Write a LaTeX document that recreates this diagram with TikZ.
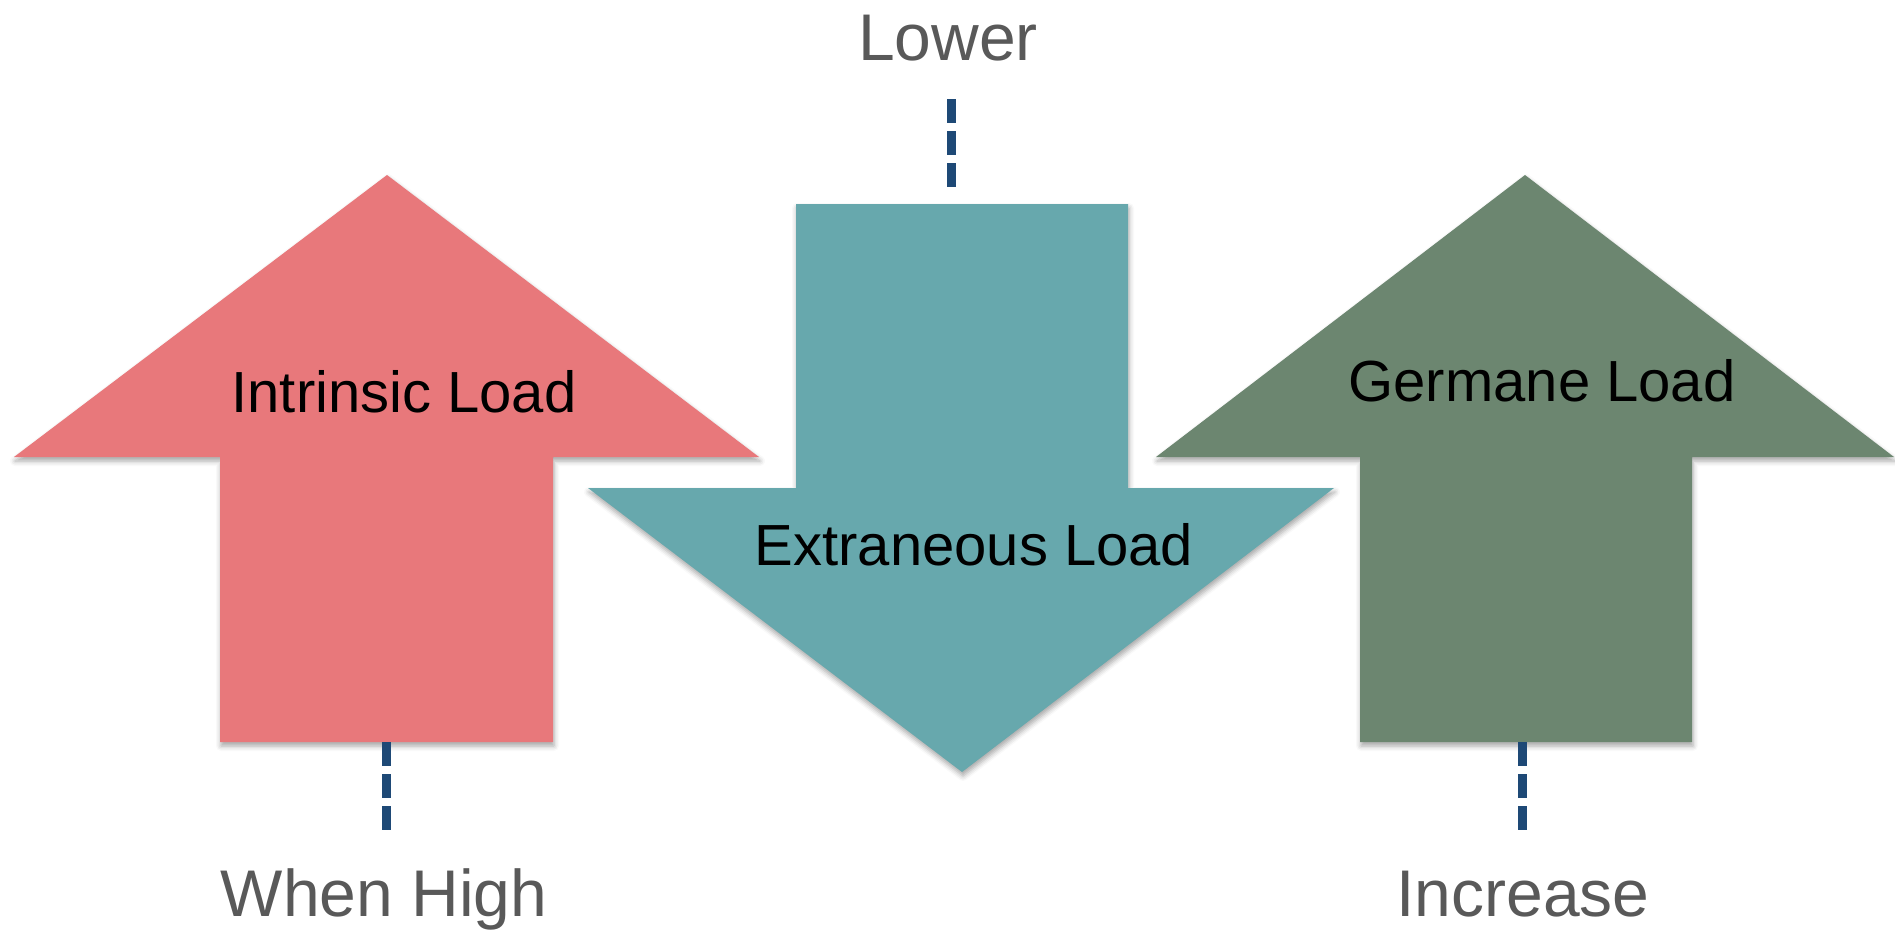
\documentclass[tikz,border=0pt]{standalone}
\usepackage{fontspec}
\setmainfont{Liberation Sans}
\usetikzlibrary{shadows.blur}
\definecolor{intrinsic}{RGB}{232,120,123}
\definecolor{extraneous}{RGB}{103,168,173}
\definecolor{germane}{RGB}{108,134,112}
\definecolor{leader}{RGB}{30,73,118}
\definecolor{caption}{RGB}{89,89,89}
\tikzset{
  loadarrow/.style={draw=none, blur shadow={shadow xshift=1pt, shadow yshift=-4pt, shadow blur radius=5pt, shadow opacity=35}},
  inner label/.style={font=\fontsize{58}{60}\selectfont, text=black, inner sep=0pt, anchor=base},
  outer label/.style={font=\fontsize{66}{70}\selectfont, text=caption, inner sep=0pt, anchor=base},
  leader line/.style={draw=leader, line width=9pt, dash pattern=on 24pt off 8pt}
}
\begin{document}
\begin{tikzpicture}[x=1pt, y=-1pt]
  \useasboundingbox (0,0) rectangle (1895,934);

  % upward arrow: intrinsic load
  \fill[intrinsic, loadarrow] (387,175) -- (759,457) -- (553,457) -- (553,742)
    -- (220,742) -- (220,457) -- (14,457) -- cycle;
  % downward arrow: extraneous load
  \fill[extraneous, loadarrow] (796,204) -- (1128,204) -- (1128,488) -- (1334,488)
    -- (962,772) -- (588,488) -- (796,488) -- cycle;
  % upward arrow: germane load
  \fill[germane, loadarrow] (1525,175) -- (1894,457) -- (1692,457) -- (1692,742)
    -- (1360,742) -- (1360,457) -- (1156,457) -- cycle;

  \node[inner label] (intr) at (404,412) {Intrinsic Load};
  \node[inner label] (extr) at (974,565) {Extraneous Load};
  \node[inner label] (germ) at (1542,401) {Germane Load};

  \node[outer label] (high) at (384,916) {When High};
  \node[outer label] (lower) at (948,61) {Lower};
  \node[outer label] (incr) at (1523,916) {Increase};

  \coordinate (intrbot) at (386,742);
  \coordinate (highend) at (386,834);
  \coordinate (extrtop) at (951,192);
  \coordinate (lowerend) at (951,99);
  \coordinate (germbot) at (1522,742);
  \coordinate (incrend) at (1522,834);

  \draw[leader line] (intrbot) -- (highend);
  \draw[leader line] (lowerend) -- (extrtop);
  \draw[leader line] (germbot) -- (incrend);
\end{tikzpicture}
\end{document}
